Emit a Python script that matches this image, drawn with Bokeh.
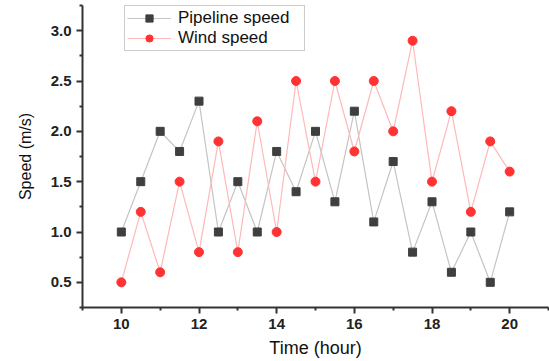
from bokeh.plotting import figure
from bokeh.models import Range1d, FixedTicker, Legend, LegendItem
from bokeh.embed import file_html
from bokeh.resources import INLINE

hours = [10, 10.5, 11, 11.5, 12, 12.5, 13, 13.5, 14, 14.5, 15, 15.5, 16, 16.5, 17, 17.5, 18, 18.5, 19, 19.5, 20]
pipeline_speed = [1.0, 1.5, 2.0, 1.8, 2.3, 1.0, 1.5, 1.0, 1.8, 1.4, 2.0, 1.3, 2.2, 1.1, 1.7, 0.8, 1.3, 0.6, 1.0, 0.5, 1.2]
wind_speed = [0.5, 1.2, 0.6, 1.5, 0.8, 1.9, 0.8, 2.1, 1.0, 2.5, 1.5, 2.5, 1.8, 2.5, 2.0, 2.9, 1.5, 2.2, 1.2, 1.9, 1.6]
x_ticks = [10, 12, 14, 16, 18, 20]
y_ticks = [0.5, 1.0, 1.5, 2.0, 2.5, 3.0]

p = figure(width=549, height=361, output_backend="svg", toolbar_location=None,
           x_range=Range1d(9, 21), y_range=Range1d(0.25, 3.25),
           min_border_left=82, min_border_right=1, min_border_top=5, min_border_bottom=54)
p.outline_line_color = None
p.grid.visible = False
p.background_fill_color = "white"
p.border_fill_color = "white"

for ax in (p.xaxis[0], p.yaxis[0]):
    ax.axis_line_width = 2
    ax.axis_line_color = "#333333"
    ax.major_tick_line_width = 2
    ax.minor_tick_line_width = 2
    ax.major_tick_line_color = "#333333"
    ax.minor_tick_line_color = "#333333"
    ax.major_tick_out = 6
    ax.major_tick_in = 0
    ax.minor_tick_out = 3
    ax.minor_tick_in = 0
    ax.major_label_text_font = "Liberation Sans"
    ax.major_label_text_font_style = "bold"
    ax.major_label_text_font_size = "15px"
    ax.major_label_text_color = "#222222"
    ax.axis_label_text_font = "Liberation Sans"
    ax.axis_label_text_font_style = "normal"
    ax.axis_label_text_color = "#111111"

p.xaxis.axis_label_text_font_size = "18px"
p.yaxis.axis_label_text_font_size = "16px"
p.xaxis.ticker = FixedTicker(ticks=x_ticks, minor_ticks=[9, 11, 13, 15, 17, 19, 21])
p.yaxis.ticker = FixedTicker(ticks=y_ticks, minor_ticks=[0.25, 0.75, 1.25, 1.75, 2.25, 2.75, 3.25])
p.yaxis.major_label_overrides = {t: f"{t:.1f}" for t in y_ticks}
p.xaxis.axis_label = "Time (hour)"
p.yaxis.axis_label = "Speed (m/s)"
p.xaxis.axis_label_standoff = 6
p.yaxis.axis_label_standoff = 14

pl = p.line(hours, pipeline_speed, line_color="#c4c4c4", line_width=1.2)
ps = p.scatter(hours, pipeline_speed, marker="square", size=8, fill_color="#3f3f3f", line_color="#3f3f3f")
wl = p.line(hours, wind_speed, line_color="#ffb8b8", line_width=1.2)
ws = p.scatter(hours, wind_speed, marker="circle", size=9, fill_color="#ff3333", line_color="#ff3333")

legend = Legend(items=[LegendItem(label="Pipeline speed", renderers=[pl, ps]),
                       LegendItem(label="Wind speed", renderers=[wl, ws])],
                location=(42, 256))
legend.border_line_color = "#999999"
legend.border_line_width = 1
legend.background_fill_alpha = 1
legend.label_text_font = "Liberation Sans"
legend.label_text_font_size = "17px"
legend.label_text_color = "#111111"
legend.glyph_width = 44
legend.glyph_height = 18
legend.label_height = 18
legend.label_width = 124
legend.spacing = 0
legend.padding = 2
legend.margin = 0
legend.label_standoff = 7
p.add_layout(legend, "center")

open("out.html", "w").write(file_html(p, INLINE))
